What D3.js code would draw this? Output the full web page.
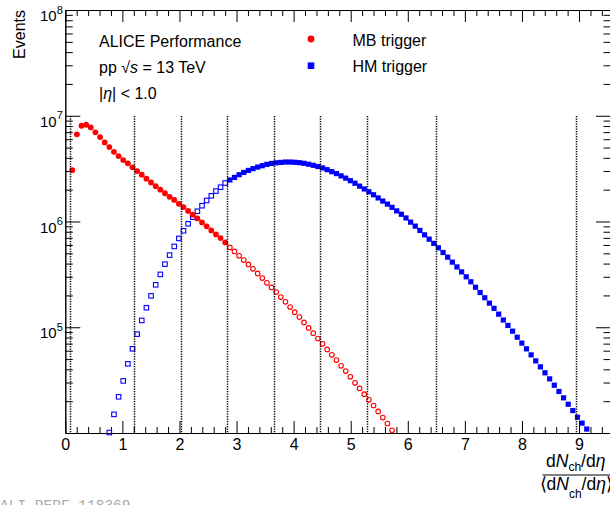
<!DOCTYPE html>
<html>
<head>
<meta charset="utf-8">
<script src="https://cdn.jsdelivr.net/npm/d3@7"></script>
<style>
  body { margin: 0; background: #fff; }
  svg { display: block; font-family: "Liberation Sans", Arial, sans-serif; }
</style>
</head>
<body>
<svg width="610" height="505"></svg>
<script>
let width = 610;
let height = 505;

// plot frame (ROOT pad), right edge sits just outside the picture
let frame = { left: 65.3, right: 611, top: 10, bottom: 433 };

// histogram binning in dNch/deta / <dNch/deta>
let binWidth = 0.0812;
let firstEdge = 0.0812;

// MB trigger, filled part starts at bin 0
let mbFilled = [
    3.06e6, 6.67e6, 8.04e6, 8.22e6, 7.76e6, 6.97e6, 6.28e6, 5.60e6, 5.06e6, 4.56e6,
    4.16e6, 3.81e6, 3.55e6, 3.25e6, 3.00e6, 2.77e6, 2.54e6, 2.34e6, 2.16e6, 2.00e6,
    1.85e6, 1.71e6, 1.60e6, 1.47e6, 1.37e6, 1.26e6, 1.16e6, 1.07e6, 9.79e5, 9.00e5,
    8.24e5, 7.55e5, 6.97e5, 6.34e5
];
// MB trigger, open part starts at bin 34
let mbOpen = [
    5.69e5, 5.21e5, 4.74e5, 4.32e5, 3.93e5, 3.57e5, 3.23e5, 2.92e5, 2.63e5, 2.38e5,
    2.15e5, 1.93e5, 1.74e5, 1.55e5, 1.39e5, 1.25e5, 1.11e5, 9.86e4, 8.79e4, 7.83e4,
    6.97e4, 6.17e4, 5.48e4, 4.89e4, 4.32e4, 3.85e4, 3.40e4, 2.98e4, 2.64e4, 2.33e4,
    2.06e4, 1.82e4, 1.60e4, 1.40e4, 1.23e4, 1.06e4
];
// HM trigger, open part starts at bin 8
let hmOpen = [
    1.01e4, 1.50e4, 2.20e4, 3.11e4, 4.51e4, 6.25e4, 8.61e4, 1.16e5, 1.53e5, 1.98e5,
    2.52e5, 3.16e5, 3.95e5, 4.81e5, 5.81e5, 6.92e5, 8.17e5, 9.51e5, 1.10e6, 1.25e6,
    1.41e6, 1.58e6, 1.75e6, 1.94e6, 2.11e6, 2.31e6
];
// HM trigger, filled part starts at bin 34
let hmFilled = [
    2.47e6, 2.61e6, 2.77e6, 2.91e6, 3.04e6, 3.16e6, 3.27e6, 3.37e6, 3.47e6, 3.54e6,
    3.59e6, 3.62e6, 3.65e6, 3.65e6, 3.63e6, 3.60e6, 3.55e6, 3.48e6, 3.40e6, 3.31e6,
    3.21e6, 3.09e6, 2.96e6, 2.84e6, 2.70e6, 2.57e6, 2.43e6, 2.30e6, 2.16e6, 2.03e6,
    1.91e6, 1.79e6, 1.67e6, 1.56e6, 1.46e6, 1.36e6, 1.26e6, 1.17e6, 1.08e6, 9.86e5,
    9.04e5, 8.24e5, 7.48e5, 6.81e5, 6.21e5, 5.64e5, 5.09e5, 4.60e5, 4.13e5, 3.72e5,
    3.34e5, 3.00e5, 2.69e5, 2.39e5, 2.13e5, 1.90e5, 1.69e5, 1.51e5, 1.33e5, 1.17e5,
    1.04e5, 9.18e4, 8.05e4, 7.08e4, 6.25e4, 5.48e4, 4.81e4, 4.22e4, 3.71e4, 3.25e4,
    2.83e4, 2.47e4, 2.15e4, 1.87e4, 1.63e4, 1.41e4, 1.24e4, 1.09e4
];

// multiplicity class boundaries (dotted lines)
let classEdges = [0.08, 1.21, 2.02, 2.83, 3.65, 4.46, 5.28, 6.50, 8.94];

let xTicks = [0, 1, 2, 3, 4, 5, 6, 7, 8, 9];
let yTicks = [1e5, 1e6, 1e7, 1e8];

let labelLines = ["ALICE Performance", "pp", "|", "< 1.0"];

let svg = d3.select("svg");

let x = d3.scaleLinear()
    .domain([0, 9.56])
    .range([frame.left, frame.right]);

let y = d3.scaleLog()
    .domain([1e4, 1e8])
    .range([frame.bottom, frame.top]);

function bin_center(start, i) {
    // centre of histogram bin number start + i
    return firstEdge + (start + i + 0.5) * binWidth;
}

function to_points(values, start) {
    return values.map((v, i) => ({ x: bin_center(start, i), y: v }));
}

// minor ticks every 0.2 in x, 2..9 per decade in y
let xMinor = d3.range(0, 9.6, 0.2).filter(v => Math.abs(v - Math.round(v)) > 0.01);
let yMinor = [];
[1e4, 1e5, 1e6, 1e7].forEach(dec => {
    for (let k = 2; k <= 9; k++) yMinor.push(k * dec);
});

function draw_axes() {
    let axes = svg.append("g").attr("class", "axes");

    // bottom
    axes.append("g")
        .attr("transform", `translate(0,${frame.bottom})`)
        .call(d3.axisBottom(x).tickValues(xMinor).tickSize(-6).tickSizeOuter(0).tickFormat(""));
    axes.append("g")
        .attr("class", "x-major")
        .attr("transform", `translate(0,${frame.bottom})`)
        .call(d3.axisBottom(x).tickValues(xTicks).tickSize(-12).tickSizeOuter(0).tickPadding(6)
            .tickFormat(d3.format("d")));

    // top
    axes.append("g")
        .attr("transform", `translate(0,${frame.top})`)
        .call(d3.axisTop(x).tickValues(xMinor).tickSize(-6).tickSizeOuter(0).tickFormat(""));
    axes.append("g")
        .attr("transform", `translate(0,${frame.top})`)
        .call(d3.axisTop(x).tickValues(xTicks).tickSize(-12).tickSizeOuter(0).tickFormat(""));

    // left
    axes.append("g")
        .attr("transform", `translate(${frame.left},0)`)
        .call(d3.axisLeft(y).tickValues(yMinor).tickSize(-7.5).tickSizeOuter(0).tickFormat(""));
    let yMajor = axes.append("g")
        .attr("class", "y-major")
        .attr("transform", `translate(${frame.left},0)`)
        .call(d3.axisLeft(y).tickValues(yTicks).tickSize(-15).tickSizeOuter(0).tickFormat(""));

    // right
    axes.append("g")
        .attr("transform", `translate(${frame.right},0)`)
        .call(d3.axisRight(y).tickValues(yMinor).tickSize(-7.5).tickSizeOuter(0).tickFormat(""));
    axes.append("g")
        .attr("transform", `translate(${frame.right},0)`)
        .call(d3.axisRight(y).tickValues(yTicks).tickSize(-15).tickSizeOuter(0).tickFormat(""));

    axes.selectAll(".domain").attr("stroke", "#000").attr("stroke-width", 1);
    axes.selectAll(".tick line").attr("stroke", "#000").attr("stroke-width", 1);

    axes.select(".x-major").selectAll("text")
        .attr("fill", "#000")
        .style("font-size", "16px")
        .style("font-family", "'Liberation Sans', Arial, sans-serif");

    // ROOT style 10^n labels
    let lab = yMajor.selectAll(".tick").append("text")
        .attr("x", -2.5)
        .attr("text-anchor", "end")
        .attr("fill", "#000")
        .style("font-family", "'Liberation Sans', Arial, sans-serif");
    lab.append("tspan")
        .attr("y", 10.7)
        .style("font-size", "15px")
        .text("10");
    lab.append("tspan")
        .attr("dy", -7.5)
        .style("font-size", "11px")
        .text(d => Math.round(Math.log10(d)));
}

function draw_class_lines() {
    svg.append("g")
        .selectAll("line")
        .data(classEdges)
        .join("line")
        .attr("x1", d => Math.round(x(d)) + 0.5)
        .attr("x2", d => Math.round(x(d)) + 0.5)
        .attr("y1", Math.round(y(1e7)))
        .attr("y2", frame.bottom)
        .attr("stroke", "#000")
        .attr("stroke-width", 1.5)
        .attr("stroke-dasharray", "1.2,1.3");
}

function draw_circles(points, filled) {
    svg.append("g")
        .selectAll("circle")
        .data(points)
        .join("circle")
        .attr("cx", d => x(d.x))
        .attr("cy", d => y(d.y))
        .attr("r", filled ? 2.9 : 2.3)
        .attr("fill", filled ? "#ff0000" : "none")
        .attr("stroke", "#ff0000")
        .attr("stroke-width", filled ? 0 : 1.1);
}

function draw_squares(points, filled) {
    let s = filled ? 5.2 : 4.5;
    svg.append("g")
        .selectAll("rect")
        .data(points)
        .join("rect")
        .attr("x", d => x(d.x) - s / 2)
        .attr("y", d => y(d.y) - s / 2)
        .attr("width", s)
        .attr("height", s)
        .attr("fill", filled ? "#0000ff" : "none")
        .attr("stroke", "#0000ff")
        .attr("stroke-width", filled ? 0 : 1.1);
}

function add_fraction_part(text, open, close, drop) {
    text.append("tspan").text(open + "d");
    text.append("tspan").style("font-style", "italic").text("N");
    text.append("tspan").attr("dy", drop).style("font-size", "12px").text("ch");
    text.append("tspan").attr("dy", -drop).text("/d");
    text.append("tspan").style("font-style", "italic").text("\u03B7");
    if (close) text.append("tspan").text(close);
}

function draw_texts() {
    let g = svg.append("g").attr("fill", "#000").style("font-size", "16px");

    g.append("text").attr("x", 99).attr("y", 46.7).text(labelLines[0]);

    let t2 = g.append("text").attr("x", 99).attr("y", 72.7);
    t2.append("tspan").text(labelLines[1] + " ");
    t2.append("tspan").text("\u221A");
    t2.append("tspan").style("font-style", "italic").text("s");
    t2.append("tspan").text(" = 13 TeV");

    let t3 = g.append("text").attr("x", 99).attr("y", 99);
    t3.append("tspan").text(labelLines[2]);
    t3.append("tspan").style("font-style", "italic").text("\u03B7");
    t3.append("tspan").text(labelLines[2] + " " + labelLines[3]);

    // legend
    g.append("circle").attr("cx", 311).attr("cy", 39).attr("r", 3.4).attr("fill", "#ff0000");
    g.append("rect").attr("x", 307.7).attr("y", 62.4).attr("width", 6.6).attr("height", 6.6).attr("fill", "#0000ff");
    g.append("text").attr("x", 352.5).attr("y", 46).text("MB trigger");
    g.append("text").attr("x", 352.5).attr("y", 72.3).text("HM trigger");

    // y title
    g.append("text")
        .attr("transform", `translate(25,${frame.top}) rotate(-90)`)
        .attr("text-anchor", "end")
        .text("Events");

    // x title as a fraction
    let num = g.append("text").attr("x", 546).attr("y", 466.8).style("font-size", "17.5px");
    add_fraction_part(num, "", "", 4);

    g.append("line")
        .attr("x1", 542.5).attr("x2", 615)
        .attr("y1", 475).attr("y2", 475)
        .attr("stroke", "#000").attr("stroke-width", 1);

    let den = g.append("text").attr("x", 539.5).attr("y", 489.5).style("font-size", "17.5px");
    add_fraction_part(den, "\u27E8", "\u27E9", 8);

    // preliminary figure id, cut by the bottom edge
    svg.append("text")
        .attr("x", 0).attr("y", 510)
        .attr("fill", "#aaaaaa")
        .style("font-family", "'Liberation Mono', 'DejaVu Sans Mono', monospace")
        .style("font-size", "14.5px")
        .text("ALI-PERF-118369");
}

draw_axes();
draw_squares(to_points(hmOpen, 8), false);
draw_squares(to_points(hmFilled, 34), true);
draw_circles(to_points(mbOpen, 34), false);
draw_circles(to_points(mbFilled, 0), true);
draw_class_lines();
draw_texts();
</script>
</body>
</html>
